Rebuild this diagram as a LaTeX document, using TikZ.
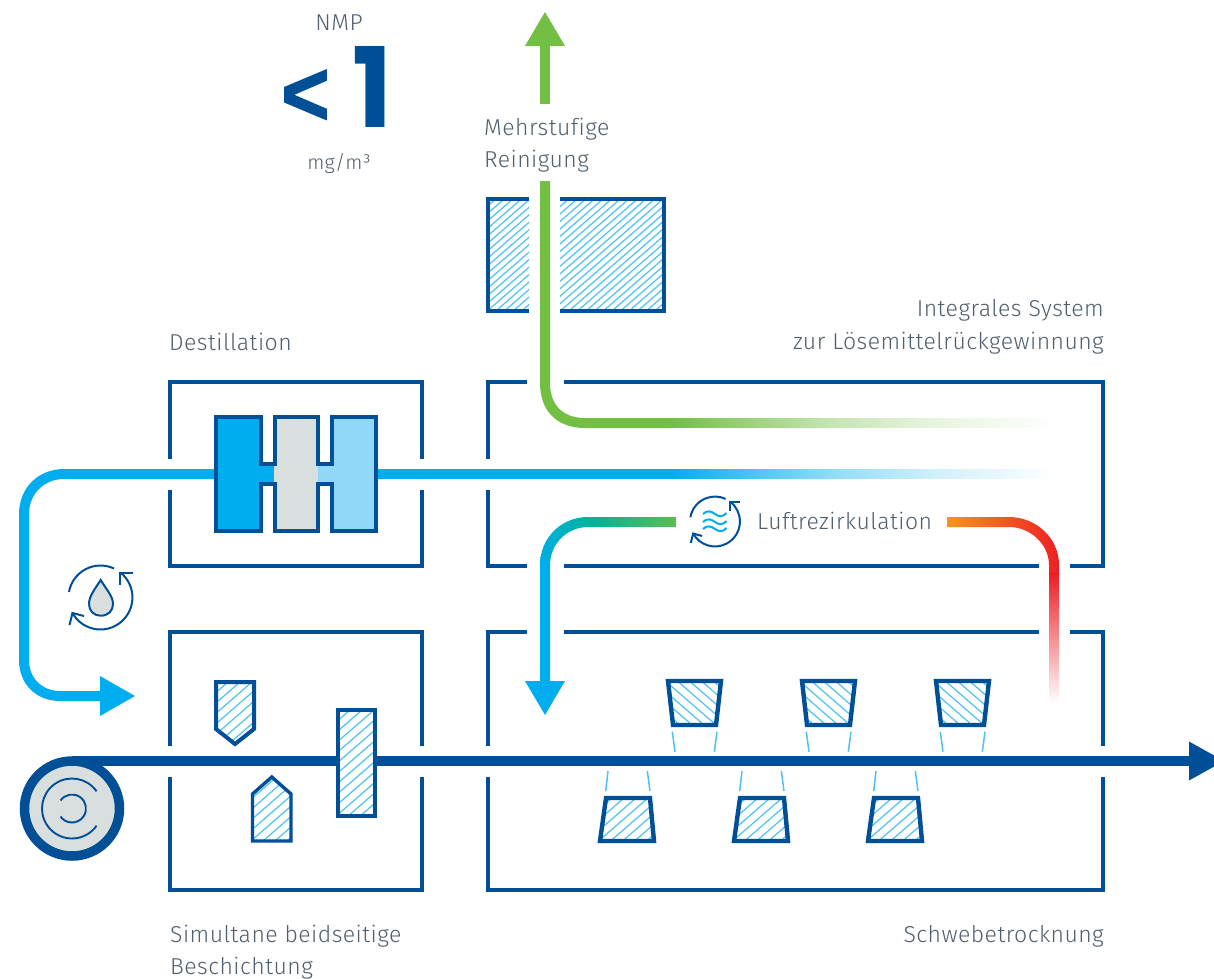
\documentclass[tikz,border=0pt]{standalone}
\usepackage{fontspec}
\setmainfont{Fira Sans Light}[Ligatures=NoCommon]
\newfontfamily\heavyfont{Poppins}[BoldFont={Poppins Bold}]
\newfontfamily\signfont{Liberation Sans Bold}[FakeBold=1.6]
\usetikzlibrary{arrows.meta}
\definecolor{navy}{HTML}{004F97}
\definecolor{cyanb}{HTML}{00AEEF}
\definecolor{lightb}{HTML}{8FD8F7}
\definecolor{grayf}{HTML}{D9DEDE}
\definecolor{hatchc}{HTML}{4CC3F0}
\definecolor{greenb}{HTML}{72BF44}
\definecolor{tealb}{HTML}{00B398}
\definecolor{orangeb}{HTML}{F7941D}
\definecolor{redb}{HTML}{ED1C24}
\definecolor{txt}{HTML}{505F6D}
\pgfdeclarehorizontalshading{greenfade}{100bp}{color(0bp)=(greenb); color(25bp)=(greenb); color(45.3bp)=(greenb!42); color(58.3bp)=(greenb!18); color(75bp)=(white); color(100bp)=(white)}
\pgfdeclarehorizontalshading{cyanfade}{100bp}{color(0bp)=(cyanb); color(25bp)=(cyanb); color(45.3bp)=(cyanb!45); color(58.3bp)=(cyanb!20); color(75bp)=(white); color(100bp)=(white)}
\tikzset{
  frame/.style={draw=navy,line width=4pt},
  outline/.style={draw=navy,line width=4pt,line join=miter},
  lbl/.style={text=txt,inner sep=0pt,font=\fontsize{23}{27}\selectfont\addfontfeatures{LetterSpace=2}},
  hatchline/.style={draw=hatchc,line width=1.2pt},
  tick/.style={draw=hatchc,line width=1.5pt},
  thin icon/.style={draw=navy,line width=2pt},
}
\newcommand{\hsp}{12}
\newcommand{\hatchu}[4]{\pgfmathtruncatemacro{\nn}{(#3-#1+(#4-#2)*1.15)/\hsp+1}%
  \foreach \i in {0,...,\nn}{\draw[hatchline] ({#1-(#4-#2)*1.15+\i*\hsp},#4) -- ++({(#4-#2)*1.15},{-(#4-#2)});}}
\newcommand{\hatchd}[4]{\pgfmathtruncatemacro{\nn}{(#3-#1+(#4-#2)*1.15)/\hsp+1}%
  \foreach \i in {0,...,\nn}{\draw[hatchline] ({#1-(#4-#2)*1.15+\i*\hsp},#2) -- ++({(#4-#2)*1.15},{(#4-#2)});}}
\newcommand{\recirc}[3]{\begin{scope}[shift={(#1,#2)},scale=#3]
  \draw[thin icon] (190:32) arc[start angle=190,end angle=295,radius=32];
  \draw[thin icon] (-28.3,15) arc[start angle=152,end angle=-51,radius=32];
  \draw[thin icon] (19,-13) -- (19,-25) -- (32.5,-25);
  \draw[thin icon] (-31,27.5) -- (-28,15.5) -- (-16.5,18.5);
\end{scope}}
\begin{document}
\begin{tikzpicture}[x=1pt,y=-1pt]
\useasboundingbox (0,0) rectangle (1214,978);
\clip (0,0) rectangle (1214,978);
\fill[white] (0,0) rectangle (1214,978);

% --- hatched block (Mehrstufige Reinigung)
\renewcommand{\hsp}{8.6}
\begin{scope}
  \clip (487,199) rectangle (529,312);
  \hatchu{487}{199}{529}{312}
\end{scope}
\begin{scope}
  \clip (560,199) rectangle (664,312);
  \hatchu{560}{199}{664}{312}
\end{scope}
\renewcommand{\hsp}{12}
\draw[frame] (529,199) -- (487.5,199) -- (487.5,311) -- (529,311);
\draw[frame] (560,199) -- (664,199) -- (664,311) -- (560,311);

% --- frames
\draw[frame] (170,459) -- (170,382) -- (422,382) -- (422,459);
\draw[frame] (170,490) -- (170,566) -- (422,566) -- (422,490);
\draw[frame] (527,382) -- (487.5,382) -- (487.5,459);
\draw[frame] (487.5,490) -- (487.5,566) -- (527,566);
\draw[frame] (564,382) -- (1103,382) -- (1103,566) -- (1070,566);
\draw[frame] (564,566) -- (1039,566);
\draw[frame] (170,746) -- (170,632) -- (422,632) -- (422,746);
\draw[frame] (170,777) -- (170,890) -- (422,890) -- (422,777);
\draw[frame] (527,632) -- (487.5,632) -- (487.5,746);
\draw[frame] (487.5,777) -- (487.5,890) -- (1103,890) -- (1103,777);
\draw[frame] (564,632) -- (1039,632);
\draw[frame] (1070,632) -- (1103,632) -- (1103,746);

% --- green exhaust line
\begin{scope}
  \clip (540,181) -- (540,383) .. controls (540,411) and (557,428) .. (585,428) -- (671,428) -- (671,418) -- (585,418) .. controls (563,418) and (550,405) .. (550,383) -- (550,181) -- cycle;
  \fill[greenb] (535,175) rectangle (680,435);
\end{scope}
\shade[shading=greenfade] (670,418.4) rectangle (1056,427.6);
\coordinate (gs) at (545,104);
\coordinate (gt) at (545,46);
\draw[greenb,line width=10pt] (gs) -- (gt);
\fill[greenb] (525,46) -- (545,12) -- (565,46) -- cycle;

% --- cyan line through distillation
\begin{scope}
  \clip (215,469) -- (64,469) .. controls (38,469) and (19,488) .. (19,514) -- (19,660) .. controls (19,684) and (36,701) .. (60,701) -- (102,701) -- (102,691) -- (60,691) .. controls (42,691) and (29,678) .. (29,660) -- (29,514) .. controls (29,494) and (44,479) .. (64,479) -- (215,479) -- cycle;
  \fill[cyanb] (10,460) rectangle (220,710);
\end{scope}
\fill[cyanb] (100,676) -- (135,696) -- (100,716) -- cycle;
\fill[cyanb] (376,469) rectangle (671,479);
\shade[shading=cyanfade] (670,469.4) rectangle (1056,478.6);

% --- distillation column
\fill[cyanb] (215,417) rectangle (261,531);
\fill[cyanb] (260,464) rectangle (276,484);
\fill[lightb] (316,464) rectangle (333,484);
\fill[lightb] (332,417) rectangle (376,531);
\fill[grayf] (274,417) rectangle (318,531);
\draw[outline] (215.5,417) -- (260.5,417) -- (260.5,464) -- (274.5,464) -- (274.5,417) -- (318,417) -- (318,464) -- (332,464) -- (332,417) -- (376,417) -- (376,531) -- (332,531) -- (332,484) -- (318,484) -- (318,531) -- (274.5,531) -- (274.5,484) -- (260.5,484) -- (260.5,531) -- (215.5,531) -- cycle;

% --- recirculation air line
\begin{scope}
  \clip (540,690) -- (540,565) .. controls (540,538) and (561,517) .. (588,517) -- (676,517) -- (676,527) -- (588,527) .. controls (567,527) and (550,544) .. (550,565) -- (550,690) -- cycle;
  \fill[cyanb] (530,560) rectangle (552,700);
  \shade[left color=cyanb,right color=tealb] (530,500) rectangle (592,560);
  \shade[left color=tealb,right color=greenb!85!tealb] (591,500) rectangle (680,560);
\end{scope}
\fill[cyanb] (525,681) -- (565,681) -- (545,715) -- cycle;
\begin{scope}
  \clip (947,517) -- (1009,517) .. controls (1036,517) and (1059,538) .. (1059,565) -- (1059,703) -- (1049,703) -- (1049,565) .. controls (1049,544) and (1030,527) .. (1009,527) -- (947,527) -- cycle;
  \shade[left color=orangeb,right color=redb] (947,510) rectangle (1062,574);
  \shade[top color=redb,bottom color=white] (1045,573) rectangle (1062,703);
\end{scope}

% --- icons
\recirc{100.5}{597.5}{1}
\filldraw[fill=grayf,draw=navy,line width=2pt] (100.7,580) .. controls (95,589) and (89,596) .. (89,604) .. controls (89,611) and (94,615.7) .. (100.7,615.7) .. controls (108,615.7) and (113,611) .. (113,604) .. controls (113,596) and (106,589) .. (100.7,580) -- cycle;
\recirc{715}{521.5}{0.78}
\foreach \yy in {514,522,529}{
  \draw[cyanb,line width=2pt] (703,\yy) .. controls (707,\yy-4) and (711,\yy-3) .. (715,\yy) .. controls (719,\yy+3) and (723,\yy+3) .. (726.5,\yy-1);
}

% --- coating heads
\begin{scope}
  \clip (216,682) -- (254,682) -- (254,729) -- (235,744) -- (216,729) -- cycle;
  \hatchu{216}{682}{254}{744}
\end{scope}
\draw[outline] (216,682) -- (254,682) -- (254,729) -- (235,744) -- (216,729) -- cycle;
\begin{scope}
  \clip (252.5,841) -- (291,841) -- (291,794) -- (271.8,777) -- (252.5,794) -- cycle;
  \hatchu{252.5}{777}{291}{841}
\end{scope}
\draw[outline,line width=3.4pt] (252.5,841) -- (291,841) -- (291,794) -- (271.8,777) -- (252.5,794) -- cycle;

% --- substrate line, reel
\node[circle,minimum size=95pt,line width=9.5pt,draw=navy,fill=grayf,inner sep=0pt] (reel) at (72,808.5) {};
\draw[navy,line width=1.9pt] (72,808.5) ++(-35:30) arc[start angle=-35,end angle=-325,radius=30];
\draw[navy,line width=1.9pt] (72,808.5) ++(-145:14) arc[start angle=-145,end angle=145,radius=14];
\coordinate (weba) at (72,761);
\coordinate (webb) at (1190,761);
\draw[navy,line width=10pt] (weba) -- (webb);
\fill[navy] (1189,741.5) -- (1224,761) -- (1189,780.5) -- cycle;

% --- press rect (over web)
\fill[white] (338,710) rectangle (376,816);
\begin{scope}
  \clip (338,710) rectangle (376,816);
  \hatchu{338}{710}{376}{816}
\end{scope}
\draw[outline] (338,710) rectangle (375,816);

% --- dryer nozzles
\foreach \dx in {0,134,268}{
  \begin{scope}[xshift=\dx pt]
    \begin{scope}
      \clip (668,681) -- (721,681) -- (716,725) -- (673,725) -- cycle;
      \hatchd{668}{681}{721}{725}
    \end{scope}
    \draw[outline,line width=4.4pt] (668,681) -- (721,681) -- (716,725) -- (673,725) -- cycle;
    \draw[tick] (672.3,731.7) -- (675,751.7);
    \draw[tick] (717,731.7) -- (714.3,751.7);
    \begin{scope}
      \clip (606,798) -- (650,798) -- (654,841) -- (600,841) -- cycle;
      \hatchu{600}{798}{654}{841}
    \end{scope}
    \draw[outline,line width=4.4pt] (606,798) -- (650,798) -- (654,841) -- (600,841) -- cycle;
    \draw[tick] (608,771) -- (605.7,791);
    \draw[tick] (647.3,771) -- (650,791);
  \end{scope}
}

% --- texts
\node[lbl,anchor=base] (nmp) at (339,30) {NMP};
\node[anchor=base west,text=navy,inner sep=0pt,font=\heavyfont\bfseries] (val) at (281,127) {\raisebox{2pt}{\scalebox{.94}[1.04]{\signfont\fontsize{88}{88}\selectfont<}}\hspace{23pt}\scalebox{.96}[1]{\fontsize{111}{111}\selectfont 1}};
\node[lbl,anchor=base,font=\fontsize{20}{24}\selectfont\addfontfeatures{LetterSpace=2}] (mg) at (339,169) {mg/m³};
\node[lbl,anchor=base west] (m1) at (484,135) {Mehrstufige};
\node[lbl,anchor=base west] (m2) at (484,167) {Reinigung};
\node[lbl,anchor=base east] (i1) at (1104,316) {Integrales System};
\node[lbl,anchor=base east] (i2) at (1104,349) {zur Lösemittelrückgewinnung};
\node[lbl,anchor=base west] (d) at (169,350) {Destillation};
\node[lbl,anchor=base west] (l) at (757,529) {Luftrezirkulation};
\node[lbl,anchor=base west] (s1) at (170,942) {Simultane beidseitige};
\node[lbl,anchor=base west] (s2) at (170,974) {Beschichtung};
\node[lbl,anchor=base east] (sw) at (1104,942) {Schwebetrocknung};
\end{tikzpicture}
\end{document}
